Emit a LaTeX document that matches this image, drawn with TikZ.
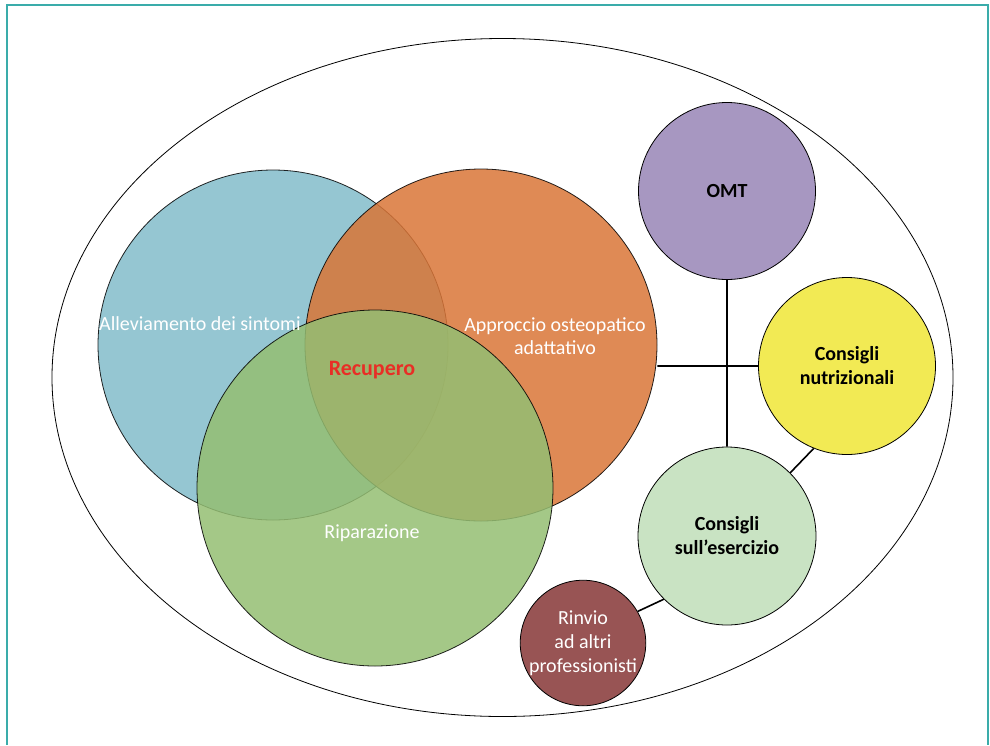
\documentclass[tikz,border=0pt]{standalone}
\usepackage{fontspec}
\setmainfont{Carlito}
\newcommand{\ringwidth}{.8pt}
\newcommand{\linkwidth}{1.6pt}
\definecolor{frameteal}{RGB}{58,172,170}
\definecolor{vennblue}{RGB}{131,188,202}
\definecolor{vennorange}{RGB}{217,117,55}
\definecolor{venngreen}{RGB}{148,190,114}
\definecolor{omtpurple}{RGB}{167,151,193}
\definecolor{nutriyellow}{RGB}{242,234,84}
\definecolor{eserciziogreen}{RGB}{201,227,195}
\definecolor{rinviobrown}{RGB}{152,84,84}
\definecolor{recuperored}{RGB}{232,46,38}

\begin{document}
\begin{tikzpicture}[x=1pt,y=-1pt,
    venn/.style={draw=black, line width=\ringwidth, circle, inner sep=0pt, opacity=.85},
    ring/.style={draw=black, line width=\ringwidth, circle, inner sep=0pt, align=center,
      font=\fontsize{20}{24}\selectfont\bfseries},
    venntext/.style={text=white, align=center, font=\fontsize{20}{23}\selectfont},
    link/.style={line width=\linkwidth}]

        \useasboundingbox (0,0) rectangle (990,745);
        \draw[frameteal, line width=2pt] (7,745) -- (7,5) -- (988,5) -- (988,745);
        \draw[line width=\ringwidth] (502.5,377.5) ellipse [x radius=450.5pt, y radius=339pt];

          % the three overlapping areas
        \node (sintomi) at (273,345) [venn, fill=vennblue, minimum size=350pt] {};
        \node (approccio) at (481,345) [venn, fill=vennorange, minimum size=352pt] {};
        \node (riparazione) at (375,488) [venn, fill=venngreen, minimum size=356pt] {};

        \node (tsintomi) at (200,324) [venntext] {Alleviamento dei sintomi};
        \node (tapproccio) at (555,336) [venntext] {Approccio osteopatico\\adattativo};
        \node (triparazione) at (372,533) [venntext] {Riparazione};
        \node (recupero) at (372,370) [text=recuperored, font=\fontsize{22}{24}\selectfont\bfseries] {Recupero};

          % the supporting circles
        \node (omt) at (727,191) [ring, fill=omtpurple, minimum size=177pt] {OMT};
        \node (nutri) at (847,366) [ring, fill=nutriyellow, minimum size=177pt] {Consigli\\nutrizionali};
        \node (esercizio) at (727,536) [ring, fill=eserciziogreen, minimum size=178pt] {Consigli\\sull’esercizio};
        \node (rinvio) at (583,643) [ring, fill=rinviobrown, minimum size=123pt, text=white,
          font=\fontsize{20}{24}\selectfont] {Rinvio\\ad altri\\professionisti};

        \draw[link] (omt) to (esercizio)
        (nutri.west) to (nutri.west -| approccio.east)
        (nutri.248) to (esercizio.45)
        (esercizio.225) to (rinvio.30);

        \end{tikzpicture}
\end{document}
